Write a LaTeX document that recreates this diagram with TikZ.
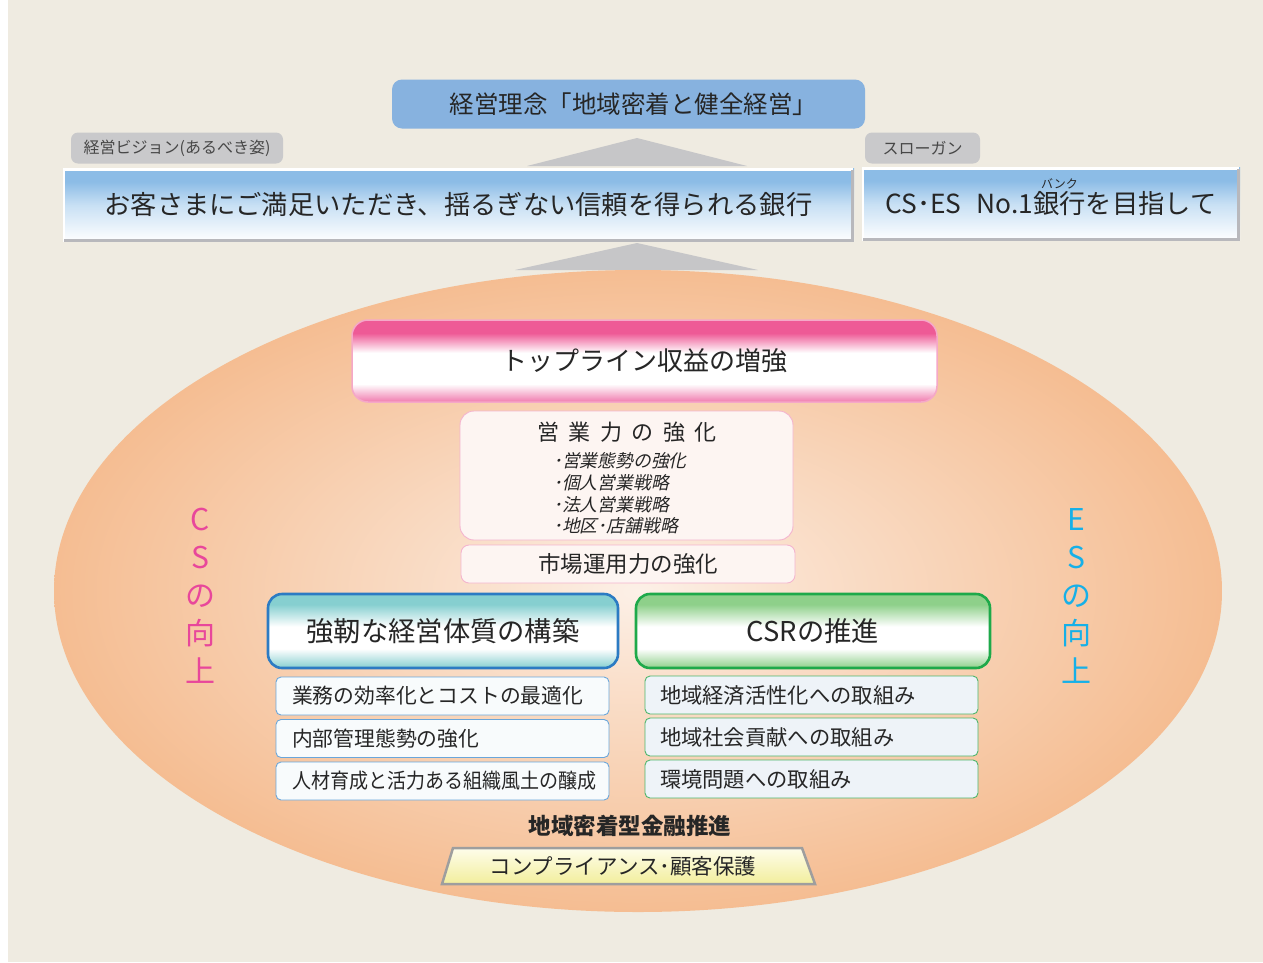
\documentclass[tikz,border=0pt]{standalone}
\usepackage{fontspec}
\setmainfont{Noto Sans CJK JP}
\newfontfamily\jpit[FakeSlant=0.22]{Noto Sans CJK JP}
\definecolor{beige}{HTML}{EFEBE1}
\definecolor{trigray}{HTML}{C6C6C8}
\definecolor{taggray}{HTML}{C9C9CB}
\definecolor{topblue}{HTML}{87B2DF}
\definecolor{visblue}{HTML}{8CBCE6}
\definecolor{vismid}{HTML}{C8E0F4}
\definecolor{bevgray}{HTML}{B8B8BC}
\definecolor{txt}{HTML}{262626}
\definecolor{pkA}{HTML}{EE5A96}
\definecolor{pkB}{HTML}{F07BAE}
\definecolor{pkBorder}{HTML}{F5A8C8}
\definecolor{pkLight}{HTML}{F4B4CE}
\definecolor{pkFill}{HTML}{FDF5F2}
\definecolor{tealA}{HTML}{86CFD0}
\definecolor{blueBorder}{HTML}{2C7BC3}
\definecolor{greenA}{HTML}{8ED08A}
\definecolor{greenBorder}{HTML}{1EA94A}
\definecolor{itemBlue}{HTML}{6AA6DA}
\definecolor{itemGreen}{HTML}{4DB56B}
\definecolor{itemFillL}{HTML}{F8FBFC}
\definecolor{itemFillR}{HTML}{EEF3F8}
\definecolor{magen}{HTML}{E8479B}
\definecolor{cyanT}{HTML}{16B0E8}
\definecolor{elC}{HTML}{FCF0E7}
\definecolor{elM}{HTML}{FAE0CC}
\definecolor{elO}{HTML}{F5BD92}
\definecolor{trapA}{HTML}{FEFDEB}
\definecolor{trapB}{HTML}{F2EE9C}
\definecolor{trapBorder}{HTML}{9E9E9E}
\pgfdeclareverticalshading{pinkband}{100bp}{color(0bp)=(pkB); color(25bp)=(pkB); color(36bp)=(white); color(55bp)=(white); color(67bp)=(pkA); color(75bp)=(pkA); color(100bp)=(pkA)}
\pgfdeclareverticalshading{tealband}{100bp}{color(0bp)=(tealA); color(25bp)=(tealA); color(38bp)=(white); color(53bp)=(white); color(68bp)=(tealA); color(75bp)=(tealA); color(100bp)=(tealA)}
\pgfdeclareverticalshading{greenband}{100bp}{color(0bp)=(greenA); color(25bp)=(greenA); color(38bp)=(white); color(53bp)=(white); color(68bp)=(greenA); color(75bp)=(greenA); color(100bp)=(greenA)}
\pgfdeclareverticalshading{visband}{100bp}{color(0bp)=(white); color(25bp)=(white); color(50bp)=(vismid); color(66bp)=(visblue); color(75bp)=(visblue); color(100bp)=(visblue)}
\pgfdeclareradialshading{ellsh}{\pgfpoint{0bp}{0bp}}{color(0bp)=(elC); color(7bp)=(elM); color(25bp)=(elO); color(50bp)=(elO)}
\newcommand\myruby[2]{\leavevmode\setbox0\hbox{#1}\rlap{\raisebox{0.95em}[0pt][0pt]{\makebox[\wd0]{\fontsize{12}{12}\selectfont #2}}}\box0}
\tikzset{
  fs/.style={font=\fontsize{#1}{#1}\selectfont},
  topbox/.style={fill=topblue, rounded corners=10, minimum width=473, minimum height=49, inner sep=0, text=txt, fs=24.5},
  tagbox/.style={fill=taggray, rounded corners=7, minimum height=31, inner sep=0, text=txt!85, fs=16},
  visbox/.style={shading=visband, minimum height=73, inner sep=0, text=txt, fs=26.3},
  pinkbox/.style={shading=pinkband, draw=pkBorder, line width=1.5, rounded corners=16, minimum width=585, minimum height=82, inner sep=0, text=txt, fs=26},
  softbox/.style={fill=pkFill, draw=pkLight, line width=0.9, inner sep=0, text=txt},
  bigblue/.style={shading=tealband, draw=blueBorder, line width=2.6, rounded corners=14, minimum width=350, minimum height=74, inner sep=0, text=txt, fs=27.3},
  biggreen/.style={shading=greenband, draw=greenBorder, line width=2.6, rounded corners=14, minimum width=354, minimum height=74, inner sep=0, text=txt, fs=27.3},
  itemL/.style={fill=itemFillL, draw=itemBlue, line width=0.9, rounded corners=5, minimum height=38, inner ysep=0, inner xsep=16, text width=301, align=left, text=txt, fs=20.8},
  itemR/.style={fill=itemFillR, draw=itemGreen, line width=0.9, rounded corners=5, minimum height=38, inner ysep=0, inner xsep=15, text width=303, align=left, text=txt, fs=21.3},
  vert/.style={align=center, inner sep=0, font=\fontsize{30}{38}\selectfont},
}
\begin{document}
\begin{tikzpicture}[x=1pt,y=-1pt]
\useasboundingbox (0,0) rectangle (1263,962);
\fill[beige] (0,0) rectangle (1263,962);
\fill[white] (0,0) rectangle (8,962);
% upward arrows
\fill[trigray] (527,166) -- (637,138) -- (747,166) -- cycle;
\fill[trigray] (515,270) -- (637,243) -- (758,270) -- cycle;
% ellipse
\shade[shading=ellsh] (638,591) ellipse [x radius=584, y radius=321];
% top
\node[topbox] (philo) at (628.5,104) {\hspace{10pt}経営理念「地域密着と健全経営」};
\node[tagbox, minimum width=212] (tagV) at (177,148) {経営ビジョン(あるべき姿)};
\node[tagbox, minimum width=115] (tagS) at (922.5,148) {スローガン};
\node[visbox, minimum width=791] (vision) at (458.5,205) {お客さまにご満足いただき、揺るぎない信頼を得られる銀行};
\node[visbox, minimum width=378] (slogan) at (1051,204) {CS･ES\hspace{15pt}No.1\myruby{銀行}{バンク}を目指して};
\foreach \b in {vision,slogan}{
  \draw[white, line width=2.5] ([xshift=1.2pt,yshift=1.2pt]\b.south west) -- ([xshift=1.2pt,yshift=-1.2pt]\b.north west) -- ([xshift=-1.2pt,yshift=-1.2pt]\b.north east);
  \draw[bevgray, line width=3] ([xshift=-1.5pt,yshift=-1.5pt]\b.north east) -- ([xshift=-1.5pt,yshift=1.5pt]\b.south east) -- ([xshift=1.5pt,yshift=1.5pt]\b.south west);
}
% central
\node[pinkbox] (topline) at (644.5,361) {トップライン収益の増強\hspace{10pt}};
\node[softbox, rounded corners=14, minimum width=333, minimum height=129] (eigyo) at (626.5,475.5) {};
\node[text=txt, fs=22, inner sep=0] (eigyoT) at (627,432) {営\hspace{9.5pt}業\hspace{9.5pt}力\hspace{9.5pt}の\hspace{9.5pt}強\hspace{9.5pt}化};
\node[text=txt, font=\jpit\fontsize{17.8}{21.7}\selectfont, align=left, anchor=west, inner sep=0] (eigyoL) at (553,493.5) {･営業態勢の強化\\･個人営業戦略\\･法人営業戦略\\･地区･店舗戦略};
\node[softbox, rounded corners=8, minimum width=334, minimum height=38, fs=22.5] (shijo) at (628,564) {市場運用力の強化};
\node[bigblue] (kyojin) at (443,631) {強靭な経営体質の構築};
\node[biggreen] (csr) at (813,631) {CSRの推進};
\node[itemL] (l1) at (442.5,696) {業務の効率化とコストの最適化};
\node[itemL] (l2) at (442.5,738.5) {内部管理態勢の強化};
\node[itemL] (l3) at (442.5,781) {\scalebox{0.915}[1]{人材育成と活力ある組織風土の醸成}};
\node[itemR] (r1) at (811.5,695) {地域経済活性化への取組み};
\node[itemR] (r2) at (811.5,737) {地域社会貢献への取組み};
\node[itemR] (r3) at (811.5,779) {環境問題への取組み};
\node[text=txt, font={\fontsize{22.5}{22.5}\selectfont\bfseries}, inner sep=0] (chiiki) at (630,826) {地域密着型金融推進};
\shade[top color=trapA, bottom color=trapB, draw=trapBorder, line width=2.5] (453,848) -- (802,848) -- (815,884) -- (442,884) -- cycle;
\node[text=txt, fs=21.5, inner sep=0] (comp) at (623,866) {コンプライアンス･顧客保護};
% side labels
\node[vert, text=magen] (cs) at (200,596) {C\\S\\の\\向\\上};
\node[vert, text=cyanT] (es) at (1076,596) {E\\S\\の\\向\\上};
\end{tikzpicture}
\end{document}
